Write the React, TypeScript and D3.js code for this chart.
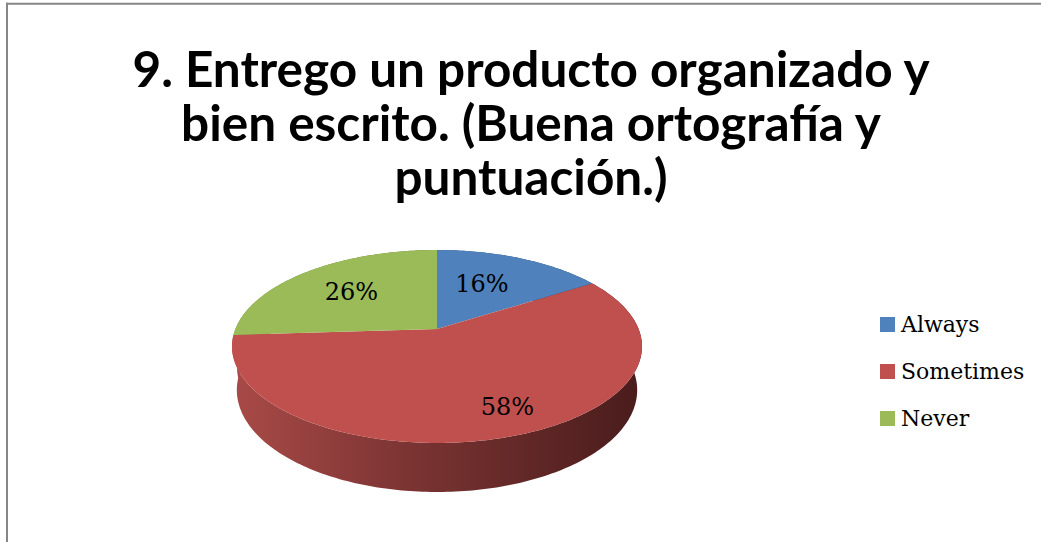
import React from "react";
import * as d3 from "d3";

const categories = ["Always", "Sometimes", "Never"];
const values = [16, 58, 26];
const labels = ["16%", "58%", "26%"];
const colors = ["#4F81BD", "#C0504D", "#9BBB59"];
const titleLines = [
  "9. Entrego un producto organizado y",
  "bien escrito. (Buena ortografía y",
  "puntuación.)",
];

const W = 1041;
const H = 542;
// 3D pie geometry
const cx = 437;
const cy = 329;
const R = 201.6;
const sinA = 0.4628;
const cosA = Math.sqrt(1 - sinA * sinA);
const Dcam = 987;
const depth = 49.6;

function project(theta: number, r: number, w: number): [number, number] {
  const u = r * Math.sin(theta);
  const v = -r * Math.cos(theta);
  const dz = v * cosA - w * sinA;
  const s = Dcam / (Dcam - dz);
  return [cx + u * s, cy + (v * sinA + w * cosA) * s];
}

function arcPts(a0: number, a1: number, w: number): [number, number][] {
  const n = Math.max(8, Math.ceil(((a1 - a0) * 180) / Math.PI));
  return d3.range(n + 1).map((i) => project(a0 + ((a1 - a0) * i) / n, R, w));
}

const line = d3.line<[number, number]>();

export default function App() {
  const pie = d3.pie<number>().sort(null).value((d) => d)(values);
  const sideColors = [
    ["#3a6290", "#223a56"],
    ["#a84a47", "#4a1c1c"],
    ["#76903f", "#465725"],
  ];
  const wallOrder = [2, 0, 1];
  const labelPos: Record<number, [number, number]> = {
    0: [482, 292],
    1: [507.5, 415],
    2: [351.5, 300],
  };
  return (
    <svg
      width={W}
      height={H}
      style={{ position: "absolute", left: 0, top: 0, background: "#fff" }}
    >
      <defs>
        {sideColors.map((c, i) => (
          <linearGradient
            key={i}
            id={`side${i}`}
            gradientUnits="userSpaceOnUse"
            x1={cx - R}
            x2={cx + R}
            y1={0}
            y2={0}
          >
            <stop offset="0" stopColor={c[0]} />
            <stop offset="0.45" stopColor={d3.interpolateRgb(c[0], c[1])(0.5)} />
            <stop offset="1" stopColor={c[1]} />
          </linearGradient>
        ))}
      </defs>
      <rect x={0} y={0} width={W} height={H} fill="#fff" />
      <line x1={6} x2={W} y1={3.7} y2={3.7} stroke="#868686" strokeWidth={2} />
      <line x1={7} x2={7} y1={2.7} y2={H} stroke="#868686" strokeWidth={2} />
      {titleLines.map((t, i) => (
        <text
          key={i}
          x={531}
          y={87 + i * 54}
          textAnchor="middle"
          fontFamily="Lato, 'Open Sans', sans-serif"
          fontWeight={700}
          fontSize={49.5}
          fill="#000"
        >
          {t}
        </text>
      ))}
      {wallOrder.map((i) => {
        const d = pie[i];
        const top = arcPts(d.startAngle, d.endAngle, 0);
        const bot = arcPts(d.startAngle, d.endAngle, depth).reverse();
        return (
          <path
            key={"w" + i}
            d={line([...top, ...bot])! + "Z"}
            fill={`url(#side${i})`}
          />
        );
      })}
      {pie.map((d, i) => {
        const pts: [number, number][] = [
          project(0, 0, 0),
          ...arcPts(d.startAngle, d.endAngle, 0),
        ];
        return <path key={"t" + i} d={line(pts)! + "Z"} fill={colors[i]} />;
      })}
      {pie.map((d, i) => (
        <text
          key={"l" + i}
          x={labelPos[i][0]}
          y={labelPos[i][1]}
          textAnchor="middle"
          fontFamily="'DejaVu Serif', serif"
          fontSize={24}
          fill="#000"
        >
          {labels[i]}
        </text>
      ))}
      {categories.map((c, i) => (
        <g key={"lg" + i} transform={`translate(880, ${332 + i * 47})`}>
          <rect x={0} y={-15} width={15} height={15} fill={colors[i]} />
          <text
            x={21}
            y={0}
            fontFamily="'DejaVu Serif', serif"
            fontSize={22}
            fill="#000"
          >
            {c}
          </text>
        </g>
      ))}
    </svg>
  );
}
